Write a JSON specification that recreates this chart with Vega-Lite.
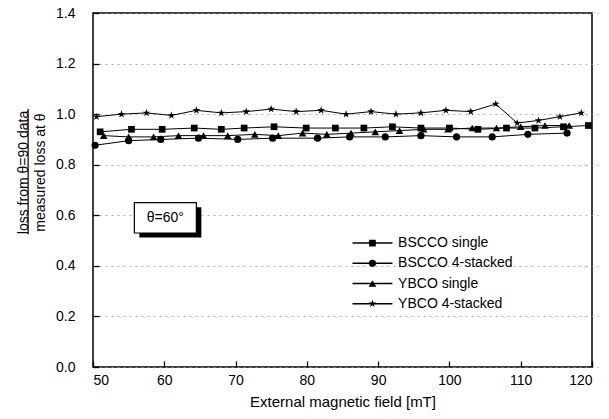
{
  "$schema": "https://vega.github.io/schema/vega-lite/v6.json",
  "width": 499,
  "height": 354,
  "autosize": {"type": "none"},
  "padding": {"left": 93, "top": 13, "right": 17, "bottom": 52},
  "background": "white",
  "config": {
    "font": "Liberation Sans",
    "view": {"stroke": "black", "strokeWidth": 1.5},
    "axis": {
      "labelFont": "Liberation Sans",
      "titleFont": "Liberation Sans",
      "labelFontSize": 14,
      "titleFontSize": 14,
      "labelColor": "black",
      "titleColor": "black",
      "titleFontWeight": "normal",
      "domainColor": "black",
      "tickColor": "black",
      "tickWidth": 1.3,
      "tickSize": 6,
      "offset": -6,
      "domain": false,
      "zindex": 1
    }
  },
  "datasets": {
    "main": [
      {"series": "BSCCO single", "mt": 51.0, "ratio": 0.930},
      {"series": "BSCCO single", "mt": 55.4, "ratio": 0.940},
      {"series": "BSCCO single", "mt": 59.7, "ratio": 0.940},
      {"series": "BSCCO single", "mt": 64.2, "ratio": 0.945},
      {"series": "BSCCO single", "mt": 68.0, "ratio": 0.940},
      {"series": "BSCCO single", "mt": 71.2, "ratio": 0.945},
      {"series": "BSCCO single", "mt": 75.4, "ratio": 0.950},
      {"series": "BSCCO single", "mt": 79.9, "ratio": 0.945},
      {"series": "BSCCO single", "mt": 84.0, "ratio": 0.945},
      {"series": "BSCCO single", "mt": 88.0, "ratio": 0.945},
      {"series": "BSCCO single", "mt": 92.0, "ratio": 0.950},
      {"series": "BSCCO single", "mt": 96.0, "ratio": 0.945},
      {"series": "BSCCO single", "mt": 100.0, "ratio": 0.945},
      {"series": "BSCCO single", "mt": 104.0, "ratio": 0.940},
      {"series": "BSCCO single", "mt": 108.0, "ratio": 0.945},
      {"series": "BSCCO single", "mt": 112.0, "ratio": 0.945},
      {"series": "BSCCO single", "mt": 116.0, "ratio": 0.950},
      {"series": "BSCCO single", "mt": 119.5, "ratio": 0.955},
      {"series": "BSCCO 4-stacked", "mt": 50.3, "ratio": 0.877},
      {"series": "BSCCO 4-stacked", "mt": 55.0, "ratio": 0.895},
      {"series": "BSCCO 4-stacked", "mt": 59.5, "ratio": 0.900},
      {"series": "BSCCO 4-stacked", "mt": 64.8, "ratio": 0.905},
      {"series": "BSCCO 4-stacked", "mt": 70.3, "ratio": 0.900},
      {"series": "BSCCO 4-stacked", "mt": 75.2, "ratio": 0.905},
      {"series": "BSCCO 4-stacked", "mt": 81.5, "ratio": 0.905},
      {"series": "BSCCO 4-stacked", "mt": 86.0, "ratio": 0.910},
      {"series": "BSCCO 4-stacked", "mt": 91.0, "ratio": 0.910},
      {"series": "BSCCO 4-stacked", "mt": 96.0, "ratio": 0.915},
      {"series": "BSCCO 4-stacked", "mt": 101.0, "ratio": 0.910},
      {"series": "BSCCO 4-stacked", "mt": 106.0, "ratio": 0.910},
      {"series": "BSCCO 4-stacked", "mt": 111.0, "ratio": 0.920},
      {"series": "BSCCO 4-stacked", "mt": 116.5, "ratio": 0.925},
      {"series": "YBCO single", "mt": 51.5, "ratio": 0.915},
      {"series": "YBCO single", "mt": 55.0, "ratio": 0.910},
      {"series": "YBCO single", "mt": 58.5, "ratio": 0.910},
      {"series": "YBCO single", "mt": 62.0, "ratio": 0.915},
      {"series": "YBCO single", "mt": 65.5, "ratio": 0.915},
      {"series": "YBCO single", "mt": 68.9, "ratio": 0.915},
      {"series": "YBCO single", "mt": 72.7, "ratio": 0.920},
      {"series": "YBCO single", "mt": 76.0, "ratio": 0.915},
      {"series": "YBCO single", "mt": 79.4, "ratio": 0.925},
      {"series": "YBCO single", "mt": 82.8, "ratio": 0.920},
      {"series": "YBCO single", "mt": 86.2, "ratio": 0.925},
      {"series": "YBCO single", "mt": 89.6, "ratio": 0.930},
      {"series": "YBCO single", "mt": 93.0, "ratio": 0.935},
      {"series": "YBCO single", "mt": 96.4, "ratio": 0.940},
      {"series": "YBCO single", "mt": 99.8, "ratio": 0.940},
      {"series": "YBCO single", "mt": 103.2, "ratio": 0.945},
      {"series": "YBCO single", "mt": 106.6, "ratio": 0.945},
      {"series": "YBCO single", "mt": 110.0, "ratio": 0.950},
      {"series": "YBCO single", "mt": 113.4, "ratio": 0.955},
      {"series": "YBCO single", "mt": 116.8, "ratio": 0.955},
      {"series": "YBCO 4-stacked", "mt": 50.5, "ratio": 0.990},
      {"series": "YBCO 4-stacked", "mt": 54.0, "ratio": 1.000},
      {"series": "YBCO 4-stacked", "mt": 57.5, "ratio": 1.005},
      {"series": "YBCO 4-stacked", "mt": 61.0, "ratio": 0.995},
      {"series": "YBCO 4-stacked", "mt": 64.5, "ratio": 1.015},
      {"series": "YBCO 4-stacked", "mt": 68.0, "ratio": 1.005},
      {"series": "YBCO 4-stacked", "mt": 71.5, "ratio": 1.010},
      {"series": "YBCO 4-stacked", "mt": 75.0, "ratio": 1.020},
      {"series": "YBCO 4-stacked", "mt": 78.5, "ratio": 1.010},
      {"series": "YBCO 4-stacked", "mt": 82.0, "ratio": 1.015},
      {"series": "YBCO 4-stacked", "mt": 85.5, "ratio": 1.000},
      {"series": "YBCO 4-stacked", "mt": 89.0, "ratio": 1.010},
      {"series": "YBCO 4-stacked", "mt": 92.5, "ratio": 1.000},
      {"series": "YBCO 4-stacked", "mt": 96.0, "ratio": 1.005},
      {"series": "YBCO 4-stacked", "mt": 99.5, "ratio": 1.015},
      {"series": "YBCO 4-stacked", "mt": 103.0, "ratio": 1.010},
      {"series": "YBCO 4-stacked", "mt": 106.5, "ratio": 1.040},
      {"series": "YBCO 4-stacked", "mt": 109.5, "ratio": 0.965},
      {"series": "YBCO 4-stacked", "mt": 112.5, "ratio": 0.975},
      {"series": "YBCO 4-stacked", "mt": 115.5, "ratio": 0.990},
      {"series": "YBCO 4-stacked", "mt": 118.5, "ratio": 1.005}
    ],
    "legend": [
      {"series": "BSCCO single", "label": "BSCCO single", "ly": 0.49, "lx1": 86.4, "lx2": 92.0, "mx": 89.2, "tx": 92.8},
      {"series": "BSCCO 4-stacked", "label": "BSCCO 4-stacked", "ly": 0.41, "lx1": 86.4, "lx2": 92.0, "mx": 89.2, "tx": 92.8},
      {"series": "YBCO single", "label": "YBCO  single", "ly": 0.33, "lx1": 86.4, "lx2": 92.0, "mx": 89.2, "tx": 92.8},
      {"series": "YBCO 4-stacked", "label": "YBCO  4-stacked", "ly": 0.25, "lx1": 86.4, "lx2": 92.0, "mx": 89.2, "tx": 92.8}
    ],
    "note": [
      {"text": "θ=60°", "bx1": 55.8, "bx2": 64.5, "by1": 0.53, "by2": 0.65, "sx1": 56.5, "sx2": 65.2, "sy1": 0.512, "sy2": 0.632, "tx": 60.15, "ty": 0.59}
    ],
    "underline": [
      {"ux": 40.9, "uy1": 0.525, "uy2": 1.02}
    ]
  },
  "layer": [
    {
      "data": {"name": "main"},
      "mark": {"type": "line", "color": "black", "strokeWidth": 1},
      "encoding": {
        "x": {
          "field": "mt", "type": "quantitative",
          "scale": {"domain": [50, 120], "nice": false, "zero": false},
          "axis": {"title": "External magnetic field  [mT]", "values": [50, 60, 70, 80, 90, 100, 110, 120], "grid": false, "labelPadding": 6, "titlePadding": 7, "titleFontSize": 15}
        },
        "y": {
          "field": "ratio", "type": "quantitative",
          "scale": {"domain": [0, 1.4], "nice": false, "zero": true},
          "axis": {
            "title": ["loss from θ=90 data", "measured loss at θ"],
            "values": [0, 0.2, 0.4, 0.6, 0.8, 1.0, 1.2, 1.4],
            "format": ".1f",
            "grid": true,
            "gridColor": "#999",
            "gridDash": [2, 4],
            "gridWidth": 0.8,
            "labelPadding": 18,
            "titleX": -69,
            "titleY": 159,
            "titleLineHeight": 17
          }
        },
        "detail": {"field": "series", "type": "nominal"}
      }
    },
    {
      "data": {"name": "main"},
      "mark": {"type": "point", "filled": true, "color": "black", "opacity": 1},
      "encoding": {
        "x": {"field": "mt", "type": "quantitative"},
        "y": {"field": "ratio", "type": "quantitative"},
        "shape": {
          "field": "series", "type": "nominal",
          "scale": {"domain": ["BSCCO single", "BSCCO 4-stacked", "YBCO single", "YBCO 4-stacked"], "range": ["square", "circle", "triangle-up", "M0,-1L0.225,-0.309L0.951,-0.309L0.363,0.118L0.588,0.809L0,0.382L-0.588,0.809L-0.363,0.118L-0.951,-0.309L-0.225,-0.309Z"]},
          "legend": null
        },
        "size": {
          "field": "series", "type": "nominal",
          "scale": {"domain": ["BSCCO single", "BSCCO 4-stacked", "YBCO single", "YBCO 4-stacked"], "range": [45, 65, 55, 120]},
          "legend": null
        }
      }
    },
    {
      "data": {"name": "legend"},
      "mark": {"type": "rule", "color": "black", "strokeWidth": 1.5},
      "encoding": {
        "x": {"field": "lx1", "type": "quantitative"},
        "x2": {"field": "lx2"},
        "y": {"field": "ly", "type": "quantitative"}
      }
    },
    {
      "data": {"name": "legend"},
      "mark": {"type": "point", "filled": true, "color": "black", "opacity": 1},
      "encoding": {
        "x": {"field": "mx", "type": "quantitative"},
        "y": {"field": "ly", "type": "quantitative"},
        "shape": {"field": "series", "type": "nominal", "legend": null},
        "size": {"field": "series", "type": "nominal", "legend": null}
      }
    },
    {
      "data": {"name": "legend"},
      "mark": {"type": "text", "align": "left", "baseline": "middle", "fontSize": 14, "font": "Liberation Sans", "color": "black"},
      "encoding": {
        "x": {"field": "tx", "type": "quantitative"},
        "y": {"field": "ly", "type": "quantitative"},
        "text": {"field": "label"}
      }
    },
    {
      "data": {"name": "note"},
      "mark": {"type": "rect", "color": "black"},
      "encoding": {
        "x": {"field": "sx1", "type": "quantitative"},
        "x2": {"field": "sx2"},
        "y": {"field": "sy1", "type": "quantitative"},
        "y2": {"field": "sy2"}
      }
    },
    {
      "data": {"name": "note"},
      "mark": {"type": "rect", "fill": "white", "stroke": "black", "strokeWidth": 1.2},
      "encoding": {
        "x": {"field": "bx1", "type": "quantitative"},
        "x2": {"field": "bx2"},
        "y": {"field": "by1", "type": "quantitative"},
        "y2": {"field": "by2"}
      }
    },
    {
      "data": {"name": "note"},
      "mark": {"type": "text", "align": "center", "baseline": "middle", "fontSize": 14, "font": "Liberation Sans", "color": "black"},
      "encoding": {
        "x": {"field": "tx", "type": "quantitative"},
        "y": {"field": "ty", "type": "quantitative"},
        "text": {"field": "text"}
      }
    },
    {
      "data": {"name": "underline"},
      "mark": {"type": "rule", "color": "black", "strokeWidth": 1.2, "clip": false},
      "encoding": {
        "x": {"field": "ux", "type": "quantitative"},
        "y": {"field": "uy1", "type": "quantitative"},
        "y2": {"field": "uy2"}
      }
    }
  ]
}
